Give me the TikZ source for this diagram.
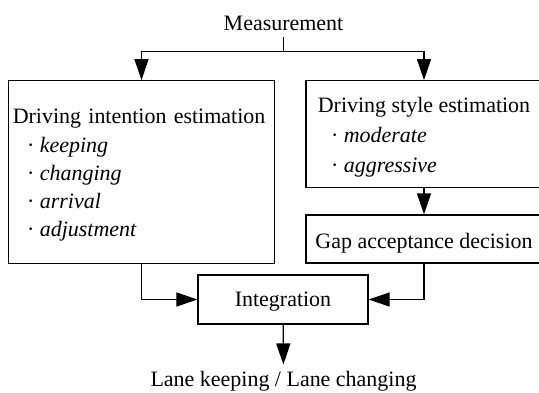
\documentclass[tikz,border=0pt]{standalone}
\usepackage{fontspec}
\setmainfont{Liberation Serif}
\usetikzlibrary{arrows.meta}
\begin{document}
\begin{tikzpicture}[line width=0.7pt,
	every node/.style={font=\fontsize{12.5}{16}\selectfont},
	blockbox/.style={draw,shape=rectangle,align=left},
	arr/.style={-{Triangle[length=12pt,width=8pt]}}]
		\useasboundingbox (0,0) rectangle (10.78,7.84);
		\clip (0,0) rectangle (10.78,7.84);
		
		\node (meas) at (5.67,7.38) {Measurement};
		\node[blockbox,text width=5.15cm,inner xsep=0.09cm,minimum height=3.65cm] (intent) at (2.83,4.40)
			{\rule{0pt}{12pt}Driving intention estimation\\
			 \hspace*{0.65em}·\hspace{0.25em}\textit{keeping}\\
			 \hspace*{0.65em}·\hspace{0.25em}\textit{changing}\\
			 \hspace*{0.65em}·\hspace{0.25em}\textit{arrival}\\
			 \hspace*{0.65em}·\hspace{0.25em}\textit{adjustment}};
		\node[blockbox,minimum width=4.72cm,minimum height=2.13cm,
			font=\fontsize{12.5}{17}\selectfont] (style) at (8.48,5.16)
			{\rule{0pt}{12pt}Driving style estimation\\
			 \hspace*{0.6em}·\hspace{0.25em}\textit{moderate}\\
			 \hspace*{0.6em}·\hspace{0.25em}\textit{aggressive}};
		\node[blockbox,minimum width=4.72cm,minimum height=0.96cm,text height=13pt] (gap) at (8.48,3.06) {Gap acceptance decision};
		\node[blockbox,minimum width=3.4cm,minimum height=0.98cm,text height=11pt] (integ) at (5.66,1.85) {Integration};
		\node (out) at (5.67,0.22) {Lane keeping / Lane changing};
		\coordinate (split) at (5.67,6.81);
		
		\draw (meas) -- (split);
		\draw[arr] (split) -| (intent.north);
		\draw[arr] (split) -| (style.north);
		\draw[arr] (style) -- (gap);
		\draw[arr] (intent.south) |- (integ.west);
		\draw[arr] (gap.south) |- (integ.east);
		\draw[arr] (integ) -- (out);
		\end{tikzpicture}
\end{document}
